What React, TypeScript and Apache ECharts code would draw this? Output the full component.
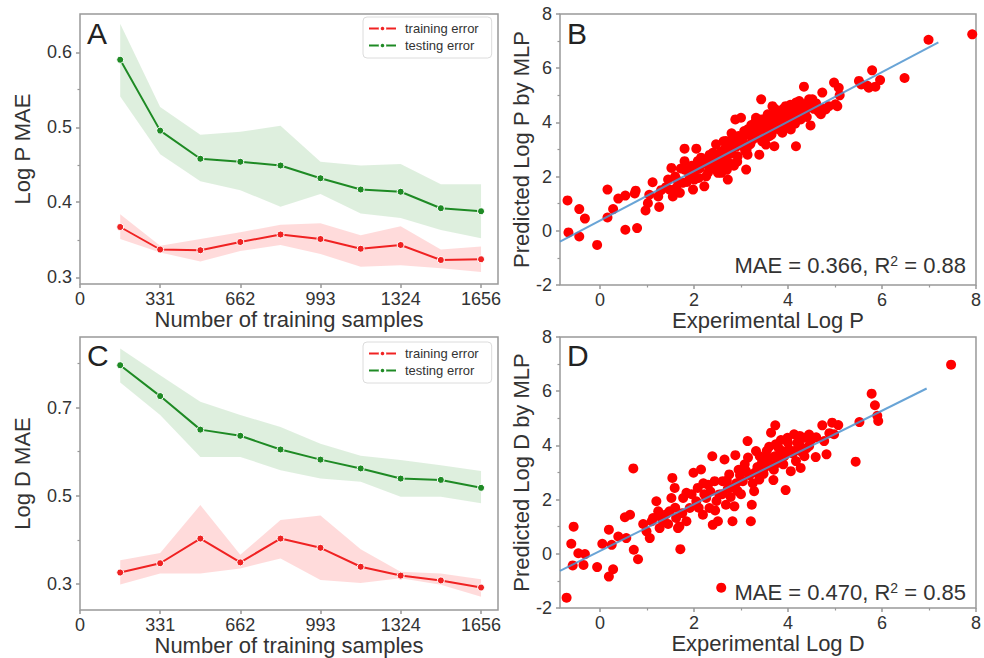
import React, { useEffect, useRef } from "react";
import * as echarts from "echarts";

const FONT = "'Liberation Sans', Arial, sans-serif";

// ---- learning curves (A: Log P, C: Log D) ----
const trainSizes = [166, 331, 497, 662, 828, 993, 1159, 1324, 1490, 1656];
const sizeTicks = [0, 331, 662, 993, 1324, 1656];

const logPTrainMean = [0.367, 0.337, 0.336, 0.347, 0.357, 0.351, 0.338, 0.343, 0.323, 0.324];
const logPTrainLow = [0.351, 0.333, 0.321, 0.335, 0.343, 0.331, 0.314, 0.316, 0.312, 0.307];
const logPTrainHigh = [0.384, 0.342, 0.351, 0.36, 0.37, 0.372, 0.356, 0.368, 0.337, 0.341];
const logPTestMean = [0.59, 0.4955, 0.458, 0.454, 0.449, 0.432, 0.417, 0.414, 0.392, 0.388];
const logPTestLow = [0.541, 0.464, 0.428, 0.416, 0.394, 0.411, 0.385, 0.379, 0.363, 0.352];
const logPTestHigh = [0.638, 0.527, 0.49, 0.494, 0.502, 0.454, 0.449, 0.451, 0.424, 0.424];

const logDTrainMean = [0.326, 0.347, 0.403, 0.349, 0.403, 0.382, 0.339, 0.319, 0.308, 0.292];
const logDTrainLow = [0.299, 0.324, 0.324, 0.335, 0.358, 0.309, 0.302, 0.313, 0.298, 0.271];
const logDTrainHigh = [0.354, 0.37, 0.479, 0.366, 0.445, 0.455, 0.379, 0.328, 0.324, 0.311];
const logDTestMean = [0.796, 0.726, 0.65, 0.636, 0.605, 0.582, 0.562, 0.539, 0.536, 0.518];
const logDTestLow = [0.757, 0.683, 0.588, 0.588, 0.558, 0.539, 0.532, 0.498, 0.498, 0.483];
const logDTestHigh = [0.834, 0.773, 0.713, 0.683, 0.656, 0.618, 0.591, 0.581, 0.569, 0.556];

const maeTicksP = [0.3, 0.4, 0.5, 0.6];
const maeMinorP = [0.35, 0.45, 0.55];
const maeTicksD = [0.3, 0.5, 0.7];
const maeMinorD = [0.4, 0.6, 0.8];

// ---- parity plots (B: Log P, D: Log D) ----
const logPPoints: [number, number][] = [
  [-0.69, 1.12], [-0.67, -0.06], [-0.44, -0.21], [-0.44, 0.8], [-0.32, 0.45], [-0.06, -0.52],
  [0.16, 1.52], [0.16, 0.49], [0.28, 0.8], [0.39, 1.19], [0.54, 1.3], [0.54, 0.04], [0.76, 1.48], [0.79, 0.1], [0.74, 1.38],
  [0.97, 0.75], [1.02, 1.02], [1.05, 1.33], [1.12, 1.79], [1.24, 1.27], [1.26, 0.88], [1.3, 1.5], [1.4, 1.6],
  [1.45, 1.89], [1.48, 1.52], [1.52, 2.32], [1.55, 1.27], [1.6, 2.0], [1.62, 1.58], [1.65, 1.85], [1.7, 1.4],
  [1.72, 2.3], [1.76, 1.77], [1.8, 3.03], [1.8, 2.57], [1.8, 2.26], [1.85, 1.8], [1.9, 2.05], [1.95, 2.4],
  [1.98, 1.52], [2.0, 2.2], [2.01, 1.89], [2.05, 3.03], [2.08, 2.57], [2.1, 1.95], [2.12, 2.3], [2.15, 2.7],
  [2.18, 2.55], [2.22, 1.64], [2.26, 2.01], [2.28, 2.45], [2.3, 2.15], [2.33, 2.8], [2.35, 2.6], [2.37, 2.38],
  [2.4, 2.88], [2.42, 2.6], [2.45, 2.3], [2.47, 3.19], [2.5, 2.75], [2.51, 2.14], [2.54, 2.5], [2.56, 2.9],
  [2.58, 2.14], [2.6, 2.45], [2.61, 2.94], [2.63, 3.3], [2.65, 3.0], [2.66, 2.7], [2.68, 3.31], [2.7, 3.05],
  [2.7, 2.25], [2.72, 1.89], [2.75, 2.51], [2.75, 2.95], [2.78, 3.2], [2.8, 2.85], [2.8, 3.6], [2.82, 3.43],
  [2.85, 2.4], [2.86, 3.25], [2.88, 4.11], [2.9, 3.1], [2.92, 2.55], [2.93, 2.75], [2.95, 3.5], [2.98, 3.2],
  [3.0, 4.17], [3.02, 3.3], [3.04, 3.12], [3.05, 3.45], [3.07, 3.68], [3.09, 2.95], [3.11, 2.26], [3.12, 3.0],
  [3.14, 2.81], [3.15, 3.75], [3.18, 3.55], [3.2, 3.2], [3.22, 3.9], [3.25, 3.37], [3.27, 3.75], [3.28, 3.49],
  [3.3, 4.0], [3.32, 4.17], [3.33, 3.45], [3.36, 3.7], [3.39, 2.81], [3.4, 3.95], [3.43, 4.85], [3.43, 4.11],
  [3.45, 3.3], [3.46, 3.95], [3.48, 3.6], [3.5, 3.8], [3.52, 4.0], [3.53, 3.18], [3.55, 4.2], [3.57, 4.3],
  [3.58, 3.7], [3.6, 3.49], [3.62, 3.95], [3.64, 4.23], [3.65, 3.55], [3.67, 4.6], [3.68, 4.05], [3.7, 3.75],
  [3.71, 3.12], [3.72, 4.5], [3.74, 4.4], [3.76, 4.05], [3.78, 3.86], [3.8, 4.1], [3.81, 4.36], [3.81, 3.74],
  [3.84, 3.95], [3.85, 4.15], [3.88, 3.62], [3.9, 4.5], [3.92, 4.3], [3.95, 4.6], [3.95, 4.11], [3.98, 3.85],
  [4.0, 4.25], [4.02, 4.45], [4.03, 4.11], [4.05, 4.65], [4.06, 3.74], [4.1, 4.25], [4.12, 4.0], [4.13, 4.42],
  [4.15, 3.95], [4.17, 3.12], [4.17, 4.73], [4.2, 4.55], [4.22, 4.2], [4.24, 4.79], [4.24, 4.36], [4.27, 4.11],
  [4.28, 4.5], [4.3, 4.6], [4.34, 5.32], [4.35, 4.35], [4.38, 4.48], [4.4, 4.2], [4.42, 4.7], [4.45, 4.85],
  [4.46, 4.6], [4.48, 3.89], [4.52, 4.85], [4.55, 4.5], [4.6, 4.7], [4.65, 4.4], [4.7, 4.3], [4.73, 5.1],
  [4.75, 4.5], [4.8, 4.48], [4.87, 4.6], [4.98, 5.47], [5.01, 4.67], [5.05, 4.6], [5.08, 5.28], [5.1, 5.0],
  [5.51, 5.53], [5.56, 5.4], [5.69, 5.35], [5.72, 5.28], [5.79, 5.92], [5.86, 5.32], [5.96, 5.56],
  [6.48, 5.64], [6.99, 7.05], [7.92, 7.25],
];

const logDPoints: [number, number][] = [
  [-0.71, -1.62], [-0.56, 1.0], [-0.61, 0.37], [-0.58, -0.43], [-0.46, 0.02], [-0.35, -0.41], [-0.32, -0.01],
  [-0.06, -0.49], [0.05, 0.37], [0.19, 0.89], [0.19, -0.84], [0.28, -0.57], [0.25, 0.33], [0.39, 0.64],
  [0.53, 1.35], [0.56, 0.58], [0.64, 1.44], [0.71, 3.15], [0.72, 0.15], [0.81, -0.2],
  [0.92, 1.1], [0.99, 0.83], [1.06, 0.58], [1.1, 1.2], [1.13, 1.32], [1.2, 1.94], [1.24, 1.57], [1.27, 0.95],
  [1.3, 1.35], [1.34, 1.2], [1.4, 1.45], [1.45, 1.1], [1.48, 1.57], [1.52, 2.06], [1.54, 2.8], [1.59, 2.43],
  [1.6, 1.7], [1.62, 1.32], [1.66, 0.95], [1.69, 1.01], [1.71, 0.17], [1.75, 1.5], [1.77, 2.06], [1.84, 1.2],
  [1.84, 2.25], [1.91, 1.69], [1.95, 2.2], [1.99, 2.99], [2.05, 1.94], [2.08, 2.43], [2.1, 1.7], [2.15, 3.11],
  [2.19, 1.44], [2.2, 2.6], [2.22, 2.2], [2.26, 2.06], [2.3, 2.55], [2.33, 1.69], [2.35, 2.3], [2.39, 3.6],
  [2.4, 1.07], [2.44, 2.68], [2.45, 1.6], [2.48, 1.95], [2.51, 1.2], [2.54, 2.19], [2.58, -1.25], [2.6, 2.2],
  [2.61, 2.68], [2.65, 3.48], [2.68, 1.81], [2.7, 2.7], [2.72, 2.4], [2.75, 2.93], [2.78, 2.1], [2.8, 2.45],
  [2.82, 1.2], [2.86, 1.75], [2.88, 3.64], [2.9, 2.6], [2.93, 2.31], [2.95, 3.1], [2.98, 2.9], [3.0, 2.2],
  [3.04, 2.68], [3.08, 3.3], [3.11, 3.05], [3.14, 4.16], [3.15, 3.55], [3.18, 2.9], [3.21, 1.2], [3.23, 1.81],
  [3.25, 2.6], [3.28, 2.31], [3.3, 3.0], [3.32, 3.79], [3.35, 3.2], [3.39, 2.74], [3.4, 3.6], [3.45, 3.4],
  [3.48, 2.95], [3.5, 3.17], [3.55, 3.8], [3.57, 3.54], [3.6, 3.95], [3.62, 3.3], [3.64, 4.47], [3.69, 2.72],
  [3.7, 3.1], [3.72, 3.6], [3.73, 4.74], [3.74, 4.04], [3.78, 3.35], [3.8, 3.9], [3.81, 3.54], [3.85, 4.2],
  [3.88, 3.79], [3.9, 3.3], [3.92, 3.6], [3.95, 2.35], [3.99, 4.28], [4.0, 4.1], [4.02, 3.85], [4.06, 3.05],
  [4.1, 3.7], [4.13, 4.41], [4.15, 3.8], [4.17, 3.42], [4.2, 4.1], [4.24, 4.04], [4.25, 4.35], [4.27, 3.17],
  [4.3, 3.75], [4.34, 4.28], [4.35, 3.6], [4.4, 3.9], [4.45, 3.98], [4.45, 4.4], [4.5, 4.22], [4.59, 3.57],
  [4.6, 4.3], [4.73, 4.74], [4.77, 4.16], [4.82, 3.67], [4.88, 4.45], [4.94, 4.84], [4.98, 4.41], [5.07, 4.75],
  [5.44, 3.4], [5.52, 4.86], [5.78, 5.91], [5.85, 5.48], [5.9, 5.09], [5.92, 4.9], [7.47, 6.98],
];

const fitLineP: [number, number][] = [[-0.85, -0.4], [7.2, 6.95]];
const fitLineD: [number, number][] = [[-0.85, -0.63], [6.95, 6.1]];

const parityTicks = [-2, 0, 2, 4, 6, 8];
const parityMinor = [-1, 1, 3, 5, 7];
const expTicks = [0, 2, 4, 6, 8];
const expMinor = [1, 3, 5, 7];

const RED = "#f02222";
const GREEN = "#1e8a24";
const TXT = "#333";
const AXIS = "#999";

function mainAxis(gridIndex: number, min: number, max: number, ticks: number[], name: string,
  nameGap: number, fmt: (v: number) => string, isY: boolean) {
  return {
    type: "value", gridIndex, min, max, position: isY ? "left" : "bottom",
    name, nameLocation: "middle", nameGap,
    nameTextStyle: { fontSize: 22, color: TXT, fontFamily: FONT },
    axisLine: { show: false, onZero: false },
    axisTick: { show: true, length: 4, customValues: ticks, lineStyle: { color: AXIS, width: 1.5 } },
    axisLabel: { show: true, customValues: ticks, formatter: fmt, fontSize: 18, color: TXT, fontFamily: FONT, margin: isY ? 8 : 6 },
    splitLine: { show: false },
  };
}
function minorAxis(gridIndex: number, min: number, max: number, ticks: number[], isY: boolean) {
  return {
    type: "value", gridIndex, min, max, position: isY ? "left" : "bottom",
    axisLine: { show: false, onZero: false },
    axisTick: { show: true, length: 2.5, customValues: ticks, lineStyle: { color: AXIS, width: 1.2 } },
    axisLabel: { show: false },
    splitLine: { show: false },
  };
}

function band(xi: number, yi: number, low: number[], high: number[], color: string) {
  return {
    type: "custom", xAxisIndex: xi, yAxisIndex: yi, silent: true, z: 1,
    data: trainSizes.map((x, i) => [x, low[i], high[i]]),
    renderItem: (params: any, api: any) => {
      if (params.dataIndex !== 0) return { type: "group", children: [] };
      const pts: number[][] = [];
      for (let i = 0; i < trainSizes.length; i++) pts.push(api.coord([trainSizes[i], high[i]]));
      for (let i = trainSizes.length - 1; i >= 0; i--) pts.push(api.coord([trainSizes[i], low[i]]));
      return { type: "polygon", shape: { points: pts }, style: { fill: color } };
    },
  };
}
function curve(xi: number, yi: number, name: string, vals: number[], color: string) {
  return {
    type: "line", name, xAxisIndex: xi, yAxisIndex: yi, z: 3,
    data: trainSizes.map((x, i) => [x, vals[i]]),
    symbol: "circle", symbolSize: 7, showSymbol: true,
    lineStyle: { color, width: 2 },
    itemStyle: { color, borderColor: "#fff", borderWidth: 1 },
  };
}
function scatter(xi: number, yi: number, pts: [number, number][]) {
  return {
    type: "scatter", xAxisIndex: xi, yAxisIndex: yi, z: 2,
    data: pts, symbol: "circle", symbolSize: 10,
    itemStyle: { color: "#ff0000", opacity: 1 },
  };
}
function fit(xi: number, yi: number, pts: [number, number][]) {
  return {
    type: "line", xAxisIndex: xi, yAxisIndex: yi, z: 4, data: pts, symbol: "none",
    lineStyle: { color: "#4f94cf", width: 2, opacity: 0.85 },
  };
}
function legend(top: number) {
  return {
    left: 363, top, orient: "vertical", selectedMode: false,
    data: ["training error", "testing error"],
    itemWidth: 27, itemHeight: 7, itemGap: 4,
    textStyle: { fontSize: 13, color: TXT, fontFamily: FONT, padding: [0, 0, 0, 4] },
    borderColor: "#dcdcdc", borderWidth: 1, borderRadius: 4,
    padding: [5, 13, 6, 5], backgroundColor: "#fff",
  };
}
function letter(t: string, x: number, y: number) {
  return { type: "text", x, y, z: 100, style: { text: t, fontSize: 30, fill: "#222", fontFamily: FONT, verticalAlign: "middle" } };
}
function metric(x: number, y: number, mae: string, r2: string) {
  return {
    type: "text", x, y, z: 100,
    style: {
      text: `{a|MAE = ${mae}, R}{s|2}{a| = ${r2}}`, align: "right", verticalAlign: "middle",
      fill: TXT, fontFamily: FONT,
      rich: {
        a: { fontSize: 22, fill: TXT, fontFamily: FONT },
        s: { fontSize: 14, fill: TXT, fontFamily: FONT, verticalAlign: "top" },
      },
    },
  };
}

const f1 = (v: number) => v.toFixed(1);
const fi = (v: number) => String(Math.round(v));

export default function App() {
  const ref = useRef<HTMLDivElement>(null);
  useEffect(() => {
    if (!ref.current) return;
    const chart = echarts.init(ref.current, undefined, { renderer: "svg" });
    const gridStyle = { show: true, borderColor: AXIS, borderWidth: 1.5, backgroundColor: "#fff" };
    chart.setOption({
      animation: false,
      backgroundColor: "#fff",
      textStyle: { fontFamily: FONT },
      grid: [
        { left: 80, top: 14, width: 418, height: 270, ...gridStyle },
        { left: 560, top: 14, width: 418, height: 271, ...gridStyle },
        { left: 80, top: 337, width: 418, height: 273, ...gridStyle },
        { left: 560, top: 337, width: 418, height: 271, ...gridStyle },
      ],
      xAxis: [
        mainAxis(0, 0, 1726, sizeTicks, "Number of training samples", 24, fi, false),
        mainAxis(1, -0.85, 8, expTicks, "Experimental Log P", 22, fi, false),
        minorAxis(1, -0.85, 8, expMinor, false),
        mainAxis(2, 0, 1726, sizeTicks, "Number of training samples", 23, fi, false),
        mainAxis(3, -0.85, 8, expTicks, "Experimental Log D", 24, fi, false),
        minorAxis(3, -0.85, 8, expMinor, false),
      ],
      yAxis: [
        mainAxis(0, 0.291, 0.651, maeTicksP, "Log P MAE", 47, f1, true),
        minorAxis(0, 0.291, 0.651, maeMinorP, true),
        mainAxis(1, -2, 8, parityTicks, "Predicted Log P by MLP", 24, fi, true),
        minorAxis(1, -2, 8, parityMinor, true),
        mainAxis(2, 0.241, 0.86, maeTicksD, "Log D MAE", 47, f1, true),
        minorAxis(2, 0.241, 0.86, maeMinorD, true),
        mainAxis(3, -2, 8, parityTicks, "Predicted Log D by MLP", 24, fi, true),
        minorAxis(3, -2, 8, parityMinor, true),
      ],
      legend: [legend(17), legend(342)],
      series: [
        band(0, 0, logPTrainLow, logPTrainHigh, "rgba(255,0,0,0.14)"),
        band(0, 0, logPTestLow, logPTestHigh, "rgba(0,128,0,0.13)"),
        curve(0, 0, "training error", logPTrainMean, RED),
        curve(0, 0, "testing error", logPTestMean, GREEN),
        band(3, 4, logDTrainLow, logDTrainHigh, "rgba(255,0,0,0.14)"),
        band(3, 4, logDTestLow, logDTestHigh, "rgba(0,128,0,0.13)"),
        curve(3, 4, "training error", logDTrainMean, RED),
        curve(3, 4, "testing error", logDTestMean, GREEN),
        scatter(1, 2, logPPoints),
        fit(1, 2, fitLineP),
        scatter(4, 6, logDPoints),
        fit(4, 6, fitLineD),
      ],
      graphic: [
        letter("A", 87, 33),
        letter("B", 567, 33),
        letter("C", 87, 355),
        letter("D", 567, 355),
        metric(966, 265, "0.366", "0.88"),
        metric(966, 592, "0.470", "0.85"),
      ],
    });
    return () => chart.dispose();
  }, []);
  return (
    <div
      ref={ref}
      style={{ position: "fixed", left: 0, top: 0, width: 984, height: 658, background: "#fff" }}
    />
  );
}
